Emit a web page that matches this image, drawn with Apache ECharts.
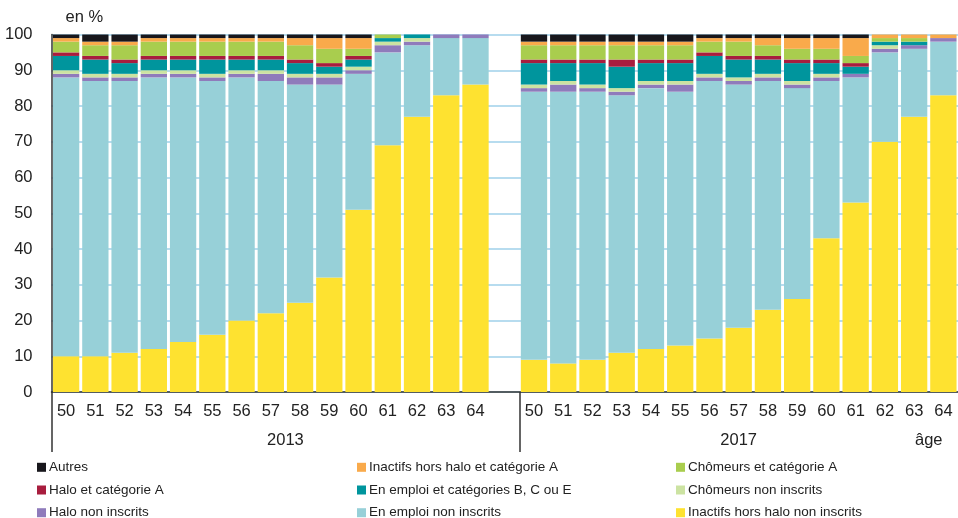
<!DOCTYPE html>
<html>
<head>
<meta charset="utf-8">
<script src="https://cdn.jsdelivr.net/npm/echarts@6/dist/echarts.min.js"></script>
<style>
    html, body { margin: 0; padding: 0; background: #fff; }
    #chart { width: 958px; height: 518px; }
</style>
</head>
<body>
<div id="chart"></div>
<script>
// categories
const ages = ['50', '51', '52', '53', '54', '55', '56', '57', '58', '59', '60', '61', '62', '63', '64']
const years = ['2013', '2017']
const yTicks = [0, 10, 20, 30, 40, 50, 60, 70, 80, 90, 100]

// values (en %), ages 50 to 64
const inactifsNonInscrits2013 = [10, 10, 11, 12, 14, 16, 20, 22, 25, 32, 51, 69, 77, 83, 86]
const inactifsNonInscrits2017 = [9, 8, 9, 11, 12, 13, 15, 18, 23, 26, 43, 53, 70, 77, 83]
const emploiNonInscrits2013 = [78, 77, 76, 76, 74, 71, 68, 65, 61, 54, 38, 26, 20, 16, 13]
const emploiNonInscrits2017 = [75, 76, 75, 72, 73, 71, 72, 68, 64, 59, 44, 35, 25, 19, 15]
const haloNonInscrits2013 = [1, 1, 1, 1, 1, 1, 1, 2, 2, 2, 1, 2, 1, 1, 1]
const haloNonInscrits2017 = [1, 2, 1, 1, 1, 2, 1, 1, 1, 1, 1, 1, 1, 1, 1]
const chomeursNonInscrits2013 = [1, 1, 1, 1, 1, 1, 1, 1, 1, 1, 1, 1, 1, 0, 0]
const chomeursNonInscrits2017 = [1, 1, 1, 1, 1, 1, 1, 1, 1, 1, 1, 0, 1, 0, 0]
const emploiBCE2013 = [4, 4, 3, 3, 3, 4, 3, 3, 3, 2, 2, 1, 1, 0, 0]
const emploiBCE2017 = [6, 5, 6, 6, 5, 5, 5, 5, 4, 5, 3, 2, 1, 1, 0]
const haloCatA2013 = [1, 1, 1, 1, 1, 1, 1, 1, 1, 1, 1, 0, 0, 0, 0]
const haloCatA2017 = [1, 1, 1, 2, 1, 1, 1, 1, 1, 1, 1, 1, 0, 0, 0]
const chomeursCatA2013 = [3, 3, 4, 4, 4, 4, 4, 4, 4, 4, 2, 1, 0, 0, 0]
const chomeursCatA2017 = [4, 4, 4, 4, 4, 4, 3, 4, 3, 3, 3, 2, 1, 1, 0]
const inactifsCatA2013 = [1, 1, 1, 1, 1, 1, 1, 1, 2, 3, 3, 0, 0, 0, 0]
const inactifsCatA2017 = [1, 1, 1, 1, 1, 1, 1, 1, 2, 3, 3, 5, 1, 1, 1]
const autres2013 = [1, 2, 2, 1, 1, 1, 1, 1, 1, 1, 1, 0, 0, 0, 0]
const autres2017 = [2, 2, 2, 2, 2, 2, 1, 1, 1, 1, 1, 1, 0, 0, 0]

const font = "'Liberation Sans', Arial, sans-serif"
const textColor = '#222'

// empty slot between the two years
const categories = [...ages, '', ...ages]
const join = (a, b) => [...a, '-', ...b]

// bottom to top of each bar
const seriesDefs = [
    { name: 'Inactifs hors halo non inscrits', color: '#fee230', data: join(inactifsNonInscrits2013, inactifsNonInscrits2017) },
    { name: 'En emploi non inscrits', color: '#97d0d8', data: join(emploiNonInscrits2013, emploiNonInscrits2017) },
    { name: 'Halo non inscrits', color: '#8f7bbb', data: join(haloNonInscrits2013, haloNonInscrits2017) },
    { name: 'Chômeurs non inscrits', color: '#cce3a2', data: join(chomeursNonInscrits2013, chomeursNonInscrits2017) },
    { name: 'En emploi et catégories B, C ou E', color: '#00959d', data: join(emploiBCE2013, emploiBCE2017) },
    { name: 'Halo et catégorie A', color: '#a81d3e', data: join(haloCatA2013, haloCatA2017) },
    { name: 'Chômeurs et catégorie A', color: '#a9cd4e', data: join(chomeursCatA2013, chomeursCatA2017) },
    { name: 'Inactifs hors halo et catégorie A', color: '#f9aa4b', data: join(inactifsCatA2013, inactifsCatA2017) },
    { name: 'Autres', color: '#18171c', data: join(autres2013, autres2017) },
]

// legend columns, as in the reference
const legendCols = [
    ['Autres', 'Halo et catégorie A', 'Halo non inscrits'],
    ['Inactifs hors halo et catégorie A', 'En emploi et catégories B, C ou E', 'En emploi non inscrits'],
    ['Chômeurs et catégorie A', 'Chômeurs non inscrits', 'Inactifs hors halo non inscrits'],
]
const legendLeft = [37, 357, 676]

const slot = 29.54
const myChart = echarts.init(document.getElementById('chart'))
const option = {
    animation: false,
    textStyle: { fontFamily: font },
    grid: { left: 51.5, top: 34.5, width: slot * categories.length, bottom: 126, containLabel: false },
    legend: legendCols.map((col, i) => ({
        data: col,
        orient: 'vertical',
        left: legendLeft[i],
        top: 460.3,
        height: 100,
        itemWidth: 9,
        itemHeight: 9,
        itemGap: 8.7,
        icon: 'rect',
        padding: 0,
        selectedMode: false,
        textStyle: { fontFamily: font, fontSize: 13.5, color: textColor, lineHeight: 14, padding: [0, 0, 0, -2] },
    })),
    xAxis: [
        {
            type: 'category',
            data: categories,
            axisLine: { lineStyle: { color: '#333', width: 1.5 } },
            axisTick: { show: false },
            axisLabel: { fontFamily: font, fontSize: 16.5, color: textColor, margin: 11, interval: 0 },
        },
        {
            type: 'value',
            min: 0,
            max: categories.length,
            position: 'bottom',
            axisLine: { show: false },
            splitLine: { show: false },
            axisTick: { show: true, customValues: [0, ages.length + 1], length: 60, lineStyle: { color: '#333', width: 1.5 } },
            axisLabel: {
                customValues: [(ages.length + 1) / 2, ages.length + 1 + ages.length / 2, 30],
                formatter: (v) => (v === 30 ? 'âge' : v < ages.length ? years[0] : years[1]),
                fontFamily: font,
                fontSize: 16.5,
                color: textColor,
                margin: 40,
            },
        },
    ],
    yAxis: {
        type: 'value',
        min: yTicks[0],
        max: yTicks[yTicks.length - 1],
        interval: 10,
        name: 'en %',
        nameLocation: 'end',
        nameGap: 9,
        nameTextStyle: { fontFamily: font, fontSize: 16.5, color: textColor, align: 'left', padding: [0, 0, 0, 14] },
        axisLine: { show: true, lineStyle: { color: '#333', width: 1.5 } },
        axisTick: { show: false },
        axisLabel: { fontFamily: font, fontSize: 16.5, color: textColor, margin: 19 },
        splitLine: { lineStyle: { color: '#9fd0ea', width: 1.5 } },
    },
    series: seriesDefs.map((s) => ({
        name: s.name,
        type: 'bar',
        stack: 'total',
        barCategoryGap: '10%',
        itemStyle: { color: s.color },
        data: s.data,
    })),
}
myChart.setOption(option)
</script>
</body>
</html>
